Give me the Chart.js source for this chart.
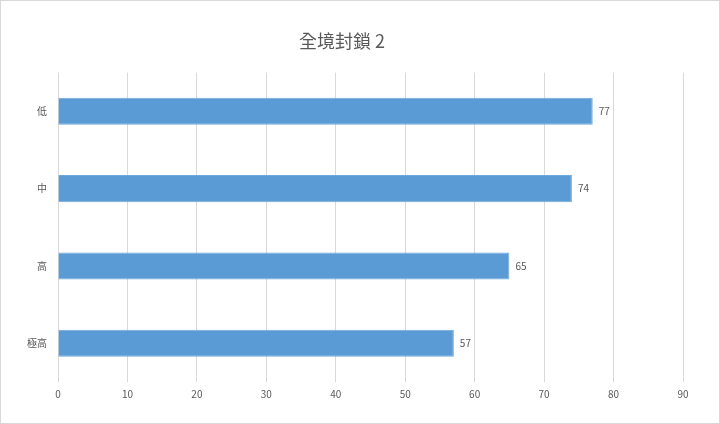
<!DOCTYPE html>
<html>
<head>
<meta charset="utf-8">
<script src="https://cdn.jsdelivr.net/npm/chart.js@4"></script>
<style>
  html, body { margin: 0; padding: 0; background: #fff; }
  #wrap { width: 720px; height: 424px; box-sizing: border-box; border: 1px solid #d9d9d9; }
  canvas { display: block; }
</style>
</head>
<body>
<div id="wrap"><canvas id="chart" width="718" height="422"></canvas></div>
<script>
// chart data
const chartTitle = '全境封鎖 2';
const categories = ['低', '中', '高', '極高'];
const values = [77, 74, 65, 57];
const axisMin = 0;
const axisMax = 90;
const axisStep = 10;

const textColor = '#595959';
const fontFamily = "'Noto Sans CJK TC', 'Noto Sans', sans-serif";

// value labels to the right of each bar
const barLabels = {
  id: 'barLabels',
  afterDatasetsDraw(chart) {
    const ctx = chart.ctx;
    const meta = chart.getDatasetMeta(0);
    ctx.save();
    ctx.fillStyle = textColor;
    ctx.font = '10px ' + fontFamily;
    ctx.textAlign = 'left';
    ctx.textBaseline = 'middle';
    meta.data.forEach((bar, i) => {
      ctx.fillText(String(values[i]), bar.x + 6, bar.y);
    });
    ctx.restore();
  },
};

new Chart(document.getElementById('chart'), {
  type: 'bar',
  data: {
    labels: categories,
    datasets: [{
      data: values,
      backgroundColor: '#5b9bd5',
      borderColor: '#6fa8dc',
      borderWidth: 1,
      categoryPercentage: 1,
      barPercentage: 0.35,
    }],
  },
  options: {
    indexAxis: 'y',
    responsive: false,
    animation: false,
    layout: { padding: { left: 0, right: 36, top: 0, bottom: 0 } },
    plugins: {
      legend: { display: false },
      tooltip: { enabled: false },
      title: {
        display: true,
        text: chartTitle,
        color: textColor,
        font: { family: fontFamily, size: 18, weight: 'normal' },
        padding: { top: 29, bottom: 21 },
      },
    },
    scales: {
      x: {
        min: axisMin,
        max: axisMax,
        ticks: {
          stepSize: axisStep,
          color: textColor,
          font: { family: fontFamily, size: 10 },
          padding: 6,
        },
        grid: { color: '#d9d9d9', drawTicks: false },
        border: { display: false },
        afterFit(scale) { scale.height = 41; },
      },
      y: {
        ticks: {
          color: textColor,
          font: { family: fontFamily, size: 10 },
          padding: 11,
        },
        grid: { display: false, drawTicks: false },
        border: { display: false },
        afterFit(scale) { scale.width = 57; },
      },
    },
  },
  plugins: [barLabels],
});
</script>
</body>
</html>
